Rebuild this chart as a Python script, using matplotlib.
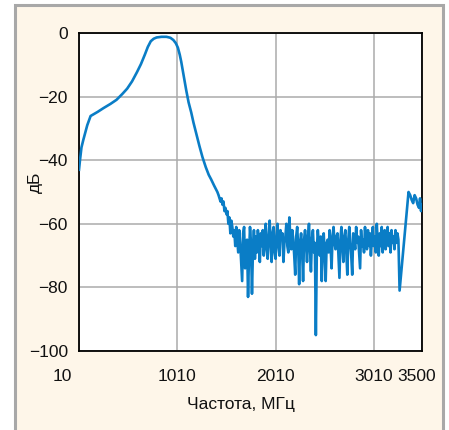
import numpy as np
import matplotlib
matplotlib.use('agg')
import matplotlib.pyplot as plt
import matplotlib.patches as patches
import matplotlib.transforms as mtransforms

plt.rcParams['font.family'] = ['Liberation Sans Narrow', 'Liberation Sans', 'DejaVu Sans']

# passband part (MHz, dB)
freq_main = [10, 20, 35, 54, 94, 128, 200, 260, 330, 392, 450, 500, 550, 600, 640, 680,
             710, 740, 770, 800, 850, 900, 940, 970, 995, 1016, 1035, 1050, 1075, 1101,
             1125, 1152, 1175, 1202, 1235, 1266, 1300, 1330, 1354, 1385, 1418]
db_main = [-43, -40, -36, -33.6, -29, -26.1, -24.8, -23.6, -22.3, -21, -19.2, -17.5, -15.2,
           -12.3, -9.8, -6.8, -4.4, -2.6, -1.8, -1.4, -1.2, -1.2, -1.5, -2.2, -3.2, -4.6,
           -6.8, -9, -13.5, -18, -21.8, -25, -28.2, -31.5, -35.5, -39, -42.2, -44.6, -46,
           -48, -50]

# stopband part: sampled every 10 MHz from 1430 to 3260 MHz
freq_noise = list(range(1430, 3270, 10))
db_noise = [-51, -52, -53, -52, -54, -53, -56, -55, -57, -56,
            -60, -58, -63, -59, -61, -64, -62, -67, -61, -65,
            -69, -62, -66, -72, -78, -63, -61, -74, -68, -65,
            -83, -70, -61, -66, -82, -68, -62, -71, -64, -69,
            -62, -66, -72, -63, -67, -62, -70, -65, -60, -68,
            -71, -64, -59, -66, -72, -63, -61, -69, -71, -64,
            -60, -67, -70, -62, -65, -63, -72, -66, -64, -60,
            -67, -69, -58, -64, -68, -62, -65, -70, -76, -64,
            -61, -67, -79, -66, -63, -68, -78, -65, -62, -66,
            -72, -64, -60, -68, -75, -65, -62, -69, -66, -95,
            -68, -62, -66, -70, -64, -78, -67, -63, -70, -78,
            -66, -65, -69, -62, -67, -74, -64, -61, -66, -68,
            -64, -63, -70, -77, -65, -61, -67, -72, -64, -62,
            -69, -76, -65, -61, -66, -70, -76, -63, -65, -68,
            -61, -66, -64, -69, -74, -62, -67, -65, -69, -61,
            -66, -68, -62, -67, -63, -70, -65, -61, -67, -64,
            -69, -60, -66, -70, -63, -67, -61, -69, -64, -62,
            -68, -65, -61, -67, -63, -69, -62, -66, -64, -68,
            -62, -66, -63, -65]

# notch and upper edge
freq_edge = [3272, 3363, 3380, 3395, 3410, 3425, 3440, 3455, 3470, 3480, 3490, 3500]
db_edge = [-81, -50, -51, -52.5, -53.5, -51, -52, -54, -55, -52, -56, -54]

xticks = [10, 1010, 2010, 3010, 3500]
yticks = [0, -20, -40, -60, -80, -100]
ylabels = ['0', '\u221220', '\u221240', '\u221260', '\u221280', '\u2212100']

freq = freq_main + freq_noise + freq_edge
db = db_main + db_noise + db_edge

fig = plt.figure(figsize=(4.49, 4.30), dpi=100, facecolor='white')

# cream panel with grey frame
frame = patches.Rectangle((15.5 / 449, -0.05), (443 - 15.5) / 449, 1.05 - 5.5 / 430,
                          transform=fig.transFigure, facecolor='#FEF6E9',
                          edgecolor='#A8A8A8', linewidth=2.2, zorder=-5)
fig.patches.append(frame)

ax = fig.add_axes([79 / 449, 1 - 351 / 430, (422 - 79) / 449, (351 - 33) / 430])
ax.set_zorder(2)
ax.set_facecolor('white')

ax.plot(freq, db, color='#0A7DC6', lw=1.9, solid_joinstyle='round', zorder=3)

ax.set_xlim(10, 3500)
ax.set_ylim(-100, 0)
ax.set_xticks(xticks)
ax.set_xticklabels([str(t) for t in xticks])
ax.set_yticks(yticks)
ax.set_yticklabels(ylabels)
ax.tick_params(length=0, labelsize=12.5, colors='#111111')
ax.tick_params(axis='x', pad=13)
ax.tick_params(axis='y', pad=8)

ax.grid(True, color='#ABABAB', lw=1.1)
ax.set_axisbelow(True)
for s in ax.spines.values():
    s.set_color('black')
    s.set_linewidth(1.3)

# shift the end labels so they do not crowd the corners
lbls = ax.get_xticklabels()
lbls[0].set_transform(lbls[0].get_transform() +
                      mtransforms.ScaledTranslation(-17 / 100, 0, fig.dpi_scale_trans))
lbls[-1].set_transform(lbls[-1].get_transform() +
                       mtransforms.ScaledTranslation(-5 / 100, 0, fig.dpi_scale_trans))

fig.text(35 / 449, 1 - 182 / 430, 'дБ', rotation=90, ha='center', va='center',
         fontsize=12.5, color='#111111')
fig.text(241 / 449, 1 - 405 / 430, 'Частота, МГц', ha='center', va='center',
         fontsize=12.5, color='#111111')

fig.savefig('out.png', dpi=100, facecolor=fig.get_facecolor())
